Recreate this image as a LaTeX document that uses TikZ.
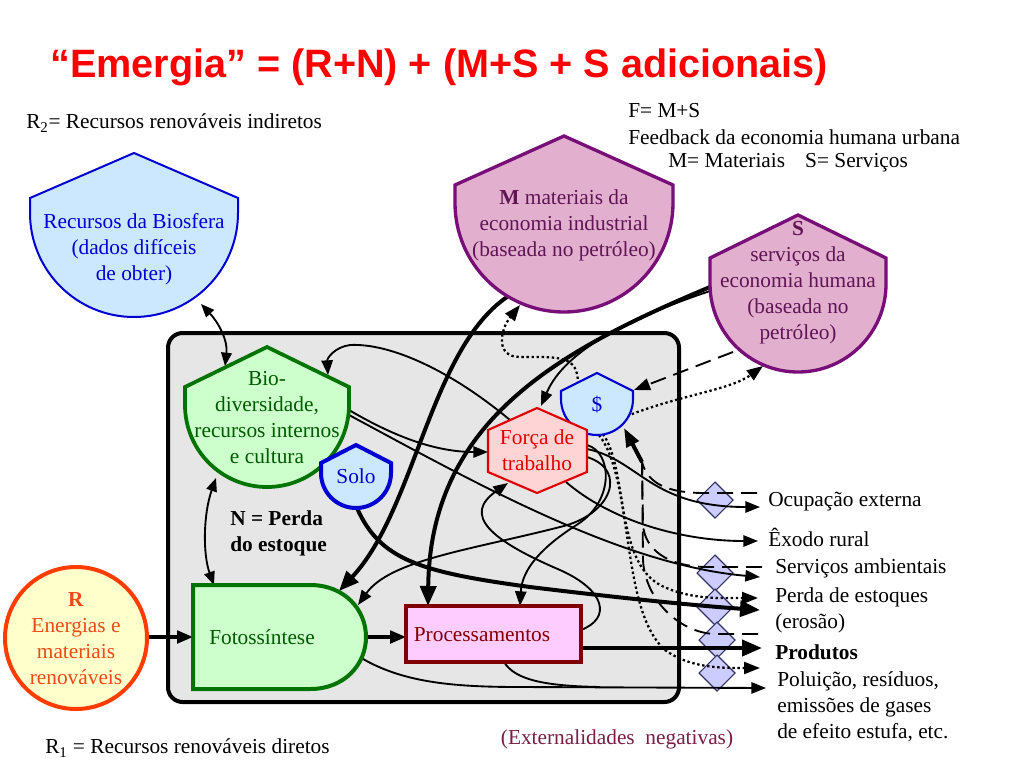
\documentclass[tikz,border=0pt]{standalone}
\usepackage{fontspec}
\setmainfont{Liberation Serif}
\newfontfamily\arialfont{Liberation Sans}
\usetikzlibrary{arrows.meta}
\definecolor{boxgray}{RGB}{230,230,230}
\definecolor{bsblue}{RGB}{0,0,210}
\definecolor{lblue}{RGB}{204,232,255}
\definecolor{mpurple}{RGB}{120,15,120}
\definecolor{mfill}{RGB}{226,176,206}
\definecolor{mtext}{RGB}{95,20,85}
\definecolor{dgreen}{RGB}{0,115,0}
\definecolor{lgreen}{RGB}{204,255,204}
\definecolor{tgreen}{RGB}{0,90,0}
\definecolor{fred}{RGB}{225,0,0}
\definecolor{ffill}{RGB}{255,212,212}
\definecolor{pred}{RGB}{128,0,0}
\definecolor{pfill}{RGB}{255,204,255}
\definecolor{rorange}{RGB}{255,60,0}
\definecolor{rtext}{RGB}{235,75,20}
\definecolor{rfill}{RGB}{255,255,204}
\definecolor{dfill}{RGB}{204,204,255}
\definecolor{dline}{RGB}{50,50,100}
\definecolor{extcol}{RGB}{120,30,70}
\newcommand{\srcshape}[6]{%
  \draw[#1] (#2,#3) -- ({#2+#5},#4) -- ({#2+#5},#6) arc[start angle=0,end angle=180,radius=#5] -- ({#2-#5},#4) -- cycle;}
\newcommand{\diam}[2]{%
  \draw[dfill diamond] (#1,{#2-18}) -- ({#1+18},#2) -- (#1,{#2+18}) -- ({#1-18},#2) -- cycle;}
\tikzset{
  dfill diamond/.style={fill=dfill,draw=dline,line width=0.8pt},
  lnthin/.style={line width=1.4pt,-{Triangle[length=11pt,width=8.5pt]}},
  lnplain/.style={line width=1.4pt},
  lnthick/.style={line width=3pt,-{Triangle[length=15pt,width=12pt]}},
  lnmed/.style={line width=2.4pt,-{Triangle[length=12pt,width=9.5pt]}},
  lndbl/.style={line width=1.4pt,{Triangle[length=10pt,width=8pt]}-{Triangle[length=10pt,width=8pt]}},
  lndot/.style={line width=1.7pt,dash pattern=on 1.8pt off 2pt,-{Triangle[length=12pt,width=9pt]}},
  lndash/.style={line width=1.4pt,dash pattern=on 12pt off 6pt},
  lndasharr/.style={line width=1.4pt,dash pattern=on 12pt off 6pt,-{Triangle[length=12pt,width=9pt]}},
  txt/.style={inner sep=0pt,align=center},
  lbl/.style={inner sep=0pt,anchor=west,align=left}
}
\begin{document}
\begin{tikzpicture}[x=0.75pt,y=-0.75pt,font=\fontsize{16}{19.5}\selectfont]
\useasboundingbox (0,0) rectangle (1024,768);
\fill[white] (0,0) rectangle (1024,768);

% main box
\draw[line width=3pt,fill=boxgray,rounded corners=11pt] (168,333) rectangle (679,702);

% diamonds
\diam{715}{500}
\diam{715}{573}
\diam{715}{607}
\diam{717}{640}
\diam{717}{673}

% connector coordinates
\coordinate (bsB) at (201,304);
\coordinate (bdTL) at (225,366);
\coordinate (bdBL) at (216,478);
\coordinate (fTL) at (214,585);
\coordinate (rR) at (147,637);
\coordinate (fL) at (193,637);
\coordinate (fR) at (366,637);
\coordinate (pL) at (406,637);
\coordinate (pR) at (581,648);
\coordinate (prodA) at (762,648);
\coordinate (fBR) at (358,656);
\coordinate (polA) at (766,688);
\coordinate (pB) at (504,662);
\coordinate (polJ) at (600,687);
\coordinate (soloB) at (357,508);
\coordinate (perdaA) at (760,610);
\coordinate (mBL) at (507,297);
\coordinate (fTR) at (339,591);
\coordinate (sL) at (710,287);
\coordinate (pT) at (428,606);
\coordinate (sL2) at (710,291);
\coordinate (ftT) at (541,406);
\coordinate (dTL) at (578,384);
\coordinate (mB) at (520,305);
\coordinate (sBL) at (733,352);
\coordinate (dR) at (634,390);
\coordinate (dR2) at (627,416);
\coordinate (sB2) at (763,366);
\coordinate (ftUL) at (510,420);
\coordinate (bdR) at (328,375);
\coordinate (bdR2) at (349,410);
\coordinate (ftL) at (488,452);
\coordinate (bdR3) at (349,415);
\coordinate (servA) at (760,577);
\coordinate (ftR) at (587,449);
\coordinate (ocupA) at (760,507);
\coordinate (ftBR) at (566,482);
\coordinate (exoA) at (758,541);
\coordinate (ftR2) at (587,457);
\coordinate (fTR2) at (358,605);
\coordinate (ftR3) at (587,445);
\coordinate (pT2) at (520,606);
\coordinate (pR2) at (581,630);
\coordinate (ftBL) at (508,483);
\coordinate (dB) at (603,434);
\coordinate (perdaA2) at (758,598);
\coordinate (dB2) at (599,435);
\coordinate (polA2) at (760,668);
\coordinate (J) at (642,462);
\coordinate (dBR) at (624,428);
\coordinate (ocupD) at (757,493);
\coordinate (servD) at (762,567);
\coordinate (prodD) at (758,634);

% connectors
\draw[lndbl] (bsB) .. controls (218,322) and (228,340) .. (bdTL);
\draw[lndbl] (bdBL) .. controls (203,515) and (203,555) .. (fTL);
\draw[lnmed] (rR) -- (fL);
\draw[lnmed] (fR) -- (pL);
\draw[lnthick] (pR) -- (prodA);
\draw[lnthin] (fBR) .. controls (400,682) and (450,687) .. (520,687) -- (polA);
\draw[lnplain] (pB) .. controls (515,680) and (545,686) .. (polJ);
\draw[lnthick] (soloB) .. controls (380,560) and (420,572) .. (530,587) .. controls (620,598) and (700,606) .. (perdaA);
\draw[lnthick] (mBL) .. controls (430,350) and (415,510) .. (fTR);
\draw[lnthick] (sL) .. controls (560,350) and (430,420) .. (pT);
\draw[lnthin] (sL2) .. controls (630,318) and (565,350) .. (ftT);
\draw[lndot] (dTL) .. controls (578,355) and (560,357) .. (520,357) .. controls (495,357) and (500,330) .. (mB);
\draw[lndasharr] (sBL) -- (dR);
\draw[lndot] (dR2) .. controls (680,395) and (730,390) .. (sB2);
\draw[lnthin] (ftUL) .. controls (450,370) and (390,343) .. (350,345) .. controls (335,347) and (327,358) .. (bdR);
\draw[lnthin] (bdR2) .. controls (400,440) and (440,452) .. (ftL);
\draw[lnthin] (bdR3) .. controls (470,480) and (620,565) .. (servA);
\draw[lnthin] (ftR) .. controls (640,460) and (650,507) .. (ocupA);
\draw[lnthin] (ftBR) .. controls (610,520) and (680,541) .. (exoA);
\draw[lnthin] (ftR2) .. controls (628,470) and (612,515) .. (560,527) .. controls (470,550) and (390,560) .. (fTR2);
\draw[lnthin] (ftR3) .. controls (612,452) and (615,500) .. (578,524) .. controls (540,548) and (522,570) .. (pT2);
\draw[lnthin] (pR2) .. controls (612,618) and (605,590) .. (560,570) .. controls (490,540) and (462,515) .. (ftBL);
\draw[lndot] (dB) .. controls (628,470) and (615,560) .. (660,585) .. controls (690,600) and (720,598) .. (perdaA2);
\draw[lndot] (dB2) .. controls (634,480) and (620,610) .. (665,650) .. controls (690,668) and (720,668) .. (polA2);
\draw[line width=3pt,-{Triangle[length=14pt,width=10pt]}] (J) -- (dBR);
\draw[lndash] (ocupD) -- (705,493) .. controls (670,493) and (648,485) .. (J);
\draw[lndash] (servD) -- (705,567) .. controls (668,566) and (645,550) .. (643,525) -- (J);
\draw[lndash] (prodD) -- (715,634) .. controls (680,633) and (645,600) .. (643,560) -- (J);

% shapes
\srcshape{draw=bsblue,fill=lblue,line width=1.5pt}{134}{153}{198}{104}{213}
\srcshape{draw=mpurple,fill=mfill,line width=2.5pt}{564}{136}{185}{109}{203}
\srcshape{draw=mpurple,fill=mfill,line width=2.5pt}{798}{215}{258}{88}{284}
\srcshape{draw=dgreen,fill=lgreen,line width=2.8pt}{267}{347}{387}{82}{405}
\srcshape{draw=bsblue,fill=lblue,line width=3pt}{356}{445}{463}{35}{473}
\srcshape{draw=bsblue,fill=lblue,line width=1.6pt}{597}{373}{391}{36}{399}
\draw[draw=fred,fill=ffill,line width=1.6pt] (537,408) -- (587,430) -- (587,472) -- (537,493) -- (488,472) -- (488,430) -- cycle;
\draw[draw=dgreen,fill=lgreen,line width=3pt] (193,585) -- (310,585) .. controls (345,585) and (366,610) .. (366,637) .. controls (366,664) and (345,689) .. (310,689) -- (193,689) -- cycle;
\draw[draw=pred,fill=pfill,line width=2.5pt] (406,606) rectangle (581,662);
\draw[draw=rorange,fill=rfill,line width=3pt] (76,638) circle[radius=71];

% texts
\node[anchor=base west,inner sep=0pt,text=red,font=\arialfont\bfseries\fontsize{29.7}{34}\selectfont] (title) at (50,77) {“Emergia” = (R+N) + (M+S + S adicionais)};
\node[lbl] (r2) at (26,123) {R\textsubscript{2}= Recursos renováveis indiretos};
\node[lbl] (fms) at (628,111) {F= M+S};
\node[lbl] (feed) at (628,137) {Feedback da economia humana urbana};
\node[lbl] (mats) at (668,163) {M= Materiais\hspace{15pt}S= Serviços};
\node[txt,text=bsblue] (bstext) at (134,249) {Recursos da Biosfera\\(dados difíceis\\de obter)};
\node[txt,text=mtext] (mtxt) at (564,225) {\textbf{M} materiais da\\economia industrial\\(baseada no petróleo)};
\node[txt,text=mtext] (stxt) at (798,283) {\textbf{S}\\serviços da\\economia humana\\(baseada no\\petróleo)};
\node[txt,text=tgreen] (bdtxt) at (267,418) {Bio-\\diversidade,\\recursos internos\\e cultura};
\node[txt,text=bsblue] (solotxt) at (356,476) {Solo};
\node[txt,text=bsblue] (dtxt) at (597,405) {\$};
\node[txt,text=fred] (ftxt) at (537,450) {Força de\\trabalho};
\node[lbl,font=\fontsize{16}{19.5}\selectfont\bfseries] (ntxt) at (230,533) {N = Perda\\do estoque};
\node[txt,text=tgreen] (fototxt) at (262,637) {Fotossíntese};
\node[txt,text=pred] (proctxt) at (482,635) {Processamentos};
\node[txt,text=rtext] (rtxt) at (76,639) {\textbf{R}\\Energias e\\materiais\\renováveis};
\node[lbl] (r1) at (45,748) {R\textsubscript{1} = Recursos renováveis diretos};
\node[txt,text=extcol] (ext) at (617,739) {(Externalidades\ \ negativas)};
\node[lbl] (ocup) at (768,502) {Ocupação externa};
\node[lbl] (exo) at (768,537) {Êxodo rural};
\node[lbl] (serv) at (775,568) {Serviços ambientais};
\node[lbl] (perda) at (775,610) {Perda de estoques\\(erosão)};
\node[lbl,font=\fontsize{16}{19.5}\selectfont\bfseries] (prod) at (775,652) {Produtos};
\node[lbl] (pol) at (777,707) {Poluição, resíduos,\\emissões de gases\\de efeito estufa, etc.};
\end{tikzpicture}
\end{document}
